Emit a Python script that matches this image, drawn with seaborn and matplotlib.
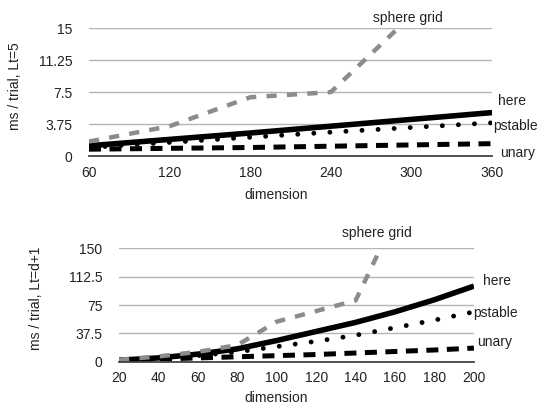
import numpy as np
import pandas as pd
import seaborn as sns
import matplotlib
matplotlib.use("Agg")
import matplotlib.pyplot as plt

# values
dims_top = [60, 120, 180, 240, 300, 360]
sphere_top = [1.7, 3.5, 6.9, 7.5, 16.5]
here_top = [1.2, 1.95, 2.7, 3.5, 4.3, 5.1]
pstable_top = [1.0, 1.6, 2.2, 2.8, 3.35, 3.9]
unary_top = [0.8, 0.9, 1.0, 1.15, 1.3, 1.45]

dims_bot = [20, 40, 60, 80, 100, 120, 140, 160, 180, 200]
sphere_bot = [2.5, 7, 13, 22, 53, 67, 81, 190]
here_bot = [2, 5, 10, 17, 28, 40, 52, 66, 82, 100]
pstable_bot = [2, 4, 8, 13, 20, 27, 35, 45, 55, 66]
unary_bot = [2, 3.5, 5, 6.5, 8, 9.5, 11.5, 13.5, 15.5, 18]

yticks_top = [0, 3.75, 7.5, 11.25, 15]
ytick_labels_top = ["0", "3.75", "7.5", "11.25", "15"]
yticks_bot = [0, 37.5, 75, 112.5, 150]
ytick_labels_bot = ["0", "37.5", "75", "112.5", "150"]

sns.set_style("white")
plt.rcParams["font.family"] = ["Liberation Sans", "DejaVu Sans"]

fig = plt.figure(figsize=(5.41, 4.07), dpi=100)
ax1 = fig.add_axes([0.1645, 0.6167, 0.745, 0.3138])
ax2 = fig.add_axes([0.22, 0.1113, 0.656, 0.2786])

gray = "#8c8c8c"
styles = {
    "unary": dict(color="black", lw=3.6, linestyle=(0, (2.4, 1.7)), dash_capstyle="butt"),
    "pstable": dict(color="black", lw=3.5, linestyle=(0, (0.01, 3.3)), dash_capstyle="round"),
    "here": dict(color="black", lw=4.0, solid_capstyle="butt"),
    "sphere grid": dict(color=gray, lw=3.2, linestyle=(0, (2.3, 2.3)), dash_capstyle="butt"),
}


def draw(ax, dims, series, yticks, ylabels, ylabel, label_pos, xlab_xy, ylab_xy):
    for name, vals in series.items():
        df = pd.DataFrame({"dim": dims[:len(vals)], "ms": vals})
        sns.lineplot(data=df, x="dim", y="ms", ax=ax, **styles[name])
    ax.set_xlim(dims[0], dims[-1])
    ax.set_ylim(yticks[0], yticks[-1])
    ax.set_xticks(dims)
    ax.set_yticks(yticks)
    ax.set_yticklabels(ylabels)
    ax.grid(axis="y", color="#b4b4b4", lw=1.0)
    ax.grid(axis="x", visible=False)
    for s in ["top", "right", "left"]:
        ax.spines[s].set_visible(False)
    ax.spines["bottom"].set_color("#444444")
    ax.spines["bottom"].set_linewidth(1.3)
    ax.tick_params(axis="both", length=0, labelsize=10, colors="#222222")
    ax.tick_params(axis="y", pad=12)
    ax.tick_params(axis="x", pad=7)
    ax.set_xlabel("dimension", fontsize=10, color="#222222")
    ax.set_ylabel(ylabel, fontsize=10, color="#222222")
    ax.xaxis.set_label_coords(*xlab_xy)
    ax.yaxis.set_label_coords(*ylab_xy)
    for name, (x, y, ha) in label_pos.items():
        ax.text(x, y, name, fontsize=10, ha=ha, va="center", color="#222222", clip_on=False)


draw(ax1, dims_top,
     {"unary": unary_top, "pstable": pstable_top, "here": here_top, "sphere grid": sphere_top},
     yticks_top, ytick_labels_top, "ms / trial, Lt=5",
     {"sphere grid": (297.5, 16.2, "center"), "here": (364.5, 6.5, "left"),
      "pstable": (360.6, 3.5, "left"), "unary": (366, 0.4, "left")},
     (0.464, -0.25), (-0.166, 0.544))

draw(ax2, dims_bot,
     {"unary": unary_bot, "pstable": pstable_bot, "here": here_bot, "sphere grid": sphere_bot},
     yticks_bot, ytick_labels_bot, "ms / trial, Lt=d+1",
     {"sphere grid": (150.7, 170, "center"), "here": (204.6, 106.7, "left"),
      "pstable": (199.4, 64.4, "left"), "unary": (201.5, 26, "left")},
     (0.442, -0.262), (-0.214, 0.562))

fig.savefig("out.png", dpi=100)
